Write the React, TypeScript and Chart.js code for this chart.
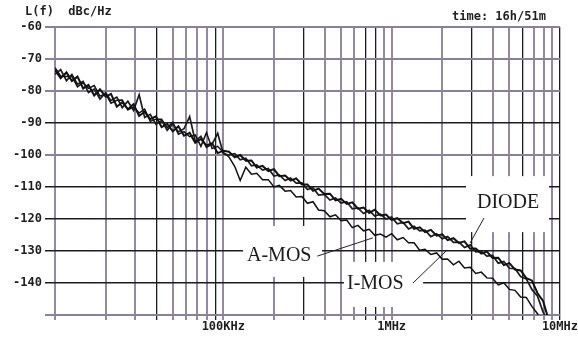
import React, { useEffect, useRef } from "react";
import { Chart, registerables } from "chart.js";

Chart.register(...registerables);

// Offset frequency in kHz (log axis, 10 kHz .. 10 MHz)
const FREQ_KHZ = [
  10, 10.8, 11.7, 12.6, 13.6, 14.7, 15.8, 17.1, 18.5, 20, 21.5, 23.3, 25.1, 27.1, 29.3, 31.6, 34.1, 36.8, 39.8, 43,
  46.4, 50.1, 54.1, 58.4, 63.1, 68.1, 73.6, 79.4, 85.8, 92.6, 100,
  108, 117, 126, 136, 147, 158, 171, 185, 200, 215, 233, 251, 271, 293, 316, 341, 368, 398, 430, 464,
  501, 541, 584, 631, 681, 736, 794, 858, 926, 1000,
  1080, 1170, 1260, 1360, 1470, 1580, 1710, 1850, 2000, 2150, 2330, 2510, 2710, 2930, 3160, 3410, 3680, 3980,
  4300, 4640, 5010, 5410, 5840, 6310, 6810, 7360, 7940, 8580, 9260,
];

// Phase noise L(f) in dBc/Hz
const DIODE = [
  -73.4, -76.0, -74.2, -76.9, -75.5, -79.2, -78.1, -81.4, -79.5, -81.8,
  -80.9, -84.9, -83.5, -85.7, -84.1, -87.8, -86.5, -88.8, -87.9, -91.3,
  -90.3, -92.6, -91.0, -94.0, -93.1, -96.2, -95.0, -97.0, -96.3, -99.4,
  -98.7,
  -99.0, -100.7, -100.0, -101.8, -101.7, -103.9, -103.4, -105.0, -104.4,
  -106.6, -106.4, -108.0, -107.3, -109.2, -109.2, -111.2, -110.5, -112.2, -112.1,
  -114.2, -113.7, -115.3, -114.8, -116.8, -116.4, -118.1, -117.1, -118.9, -118.6,
  -120.3, -119.7, -121.3, -120.8, -123.1, -122.6, -124.1, -123.4, -125.2, -124.8,
  -126.6, -126.0, -127.5, -127.0, -129.3, -129.2, -130.8, -130.2, -132.2, -132.1,
  -134.4, -133.8, -135.8, -136.1, -138.5, -139.2, -143.2, -145.6, -151.6, -154.7,
];

const I_MOS = [
  -74.8, -73.3, -76.8, -74.8, -77.9, -77.0, -80.5, -79.4, -82.5, -80.5,
  -83.0, -81.9, -85.2, -83.2, -86.1, -81.2, -88.3, -87.3, -90.4, -89.2,
  -92.3, -90.3, -92.8, -91.8, -88.0, -95.7, -94.2, -97.6, -96.6, -93.2,
  -99.6,
  -100.0, -99.6, -101.5, -101.0, -103.4, -103.1, -104.7, -104.2, -106.6,
  -106.2, -108.0, -107.2, -108.8, -108.7, -110.8, -110.2, -112.5, -112.3, -114.1,
  -113.4, -115.0, -114.6, -116.8, -116.5, -118.3, -117.3, -119.1, -118.5, -120.0,
  -119.4, -121.5, -121.1, -123.1, -122.3, -123.7, -123.5, -125.5, -124.6, -126.2,
  -125.5, -127.3, -127.2, -128.9, -128.1, -130.3, -130.1, -131.6, -131.4, -133.8,
  -133.3, -135.4, -135.5, -138.0, -138.7, -142.0, -144.1, -149.1, -152.5, -157.3,
];

const A_MOS = [
  -72.7, -75.3, -75.5, -75.4, -78.7, -77.4, -79.2, -78.3, -81.6, -80.9,
  -83.8, -82.9, -82.8, -85.9, -85.0, -86.9, -85.7, -89.5, -88.8, -88.8,
  -91.5, -89.8, -93.5, -92.7, -94.3, -93.7, -97.3, -93.0, -98.0, -97.3,
  -99.2,
  -100.6, -103.6, -108.0, -103.8, -106.0, -105.7, -107.7, -107.7, -110.0,
  -109.5, -111.3, -111.1, -113.1, -113.0, -115.1, -114.6, -117.2, -117.4, -119.3,
  -118.7, -120.5, -120.3, -122.7, -122.0, -123.7, -123.2, -125.1, -124.7, -125.7,
  -124.6, -126.5, -125.8, -127.4, -127.4, -129.8, -129.5, -131.1, -130.6, -132.6,
  -132.5, -134.3, -133.2, -135.3, -135.1, -137.0, -136.6, -138.4, -138.5, -140.6,
  -139.9, -142.0, -142.3, -144.4, -144.5, -147.3, -149.6, -153.5, -155.7, -159.2,
];

// Axis ticks
const X_GRID_KHZ = [
  10, 20, 30, 40, 50, 60, 70, 80, 90,
  100, 200, 300, 400, 500, 600, 700, 800, 900,
  1000, 2000, 3000, 4000, 5000, 6000, 7000, 8000, 9000, 10000,
];
const X_LABELS: Record<number, string> = { 100: "100KHz", 1000: "1MHz", 10000: "10MHz" };
const Y_MIN = -150;
const Y_MAX = -60;
const Y_STEP = 10;

const HEADER_LEFT = "L(f)  dBc/Hz";
const HEADER_RIGHT = "time: 16h/51m";

// Curve labels (text, anchor in data units, leader from/to in data units, white box in data units)
const CURVE_LABELS = [
  { text: "DIODE", at: [3216, -115.0], from: [3540, -119.7], to: [2924, -127.5], box: [2768, 8610, -106.6, -124.1] },
  { text: "A-MOS", at: [138.3, -131.6], from: [362, -131.6], to: [774, -125.9], box: [131, 386, -122.2, -138.1] },
  { text: "I-MOS", at: [543, -140.3], from: [1340, -140.0], to: [2134, -129.7], box: [521, 1538, -133.4, -147.5] },
];

const DARK_X = new Set([40, 90, 300, 700, 800, 3000, 6000, 10000]);
const DARK_Y = new Set([-90, -110, -120, -130, -140]);

const MONO = '"DejaVu Sans Mono", monospace';

const annotatePlugin = {
  id: "annotate",
  beforeDatasetsDraw(chart: any) {
    const { ctx } = chart;
    const xs = chart.scales.x;
    const ys = chart.scales.y;
    ctx.save();
    for (const l of CURVE_LABELS) {
      const x0 = xs.getPixelForValue(l.box[0]);
      const x1 = xs.getPixelForValue(l.box[1]);
      const y0 = ys.getPixelForValue(l.box[2]);
      const y1 = ys.getPixelForValue(l.box[3]);
      ctx.fillStyle = "#ffffff";
      ctx.fillRect(x0, y0, x1 - x0, y1 - y0);
    }
    ctx.fillStyle = "#1a1a1a";
    ctx.font = '20px "Liberation Serif", "DejaVu Serif", serif';
    ctx.textAlign = "left";
    ctx.textBaseline = "middle";
    for (const l of CURVE_LABELS) {
      ctx.fillText(l.text, xs.getPixelForValue(l.at[0]), ys.getPixelForValue(l.at[1]));
    }
    ctx.strokeStyle = "#222";
    ctx.lineWidth = 1;
    for (const l of CURVE_LABELS) {
      ctx.beginPath();
      ctx.moveTo(xs.getPixelForValue(l.from[0]), ys.getPixelForValue(l.from[1]));
      ctx.lineTo(xs.getPixelForValue(l.to[0]), ys.getPixelForValue(l.to[1]));
      ctx.stroke();
    }
    ctx.font = `bold 12px ${MONO}`;
    ctx.fillStyle = "#1e1e1e";
    ctx.fillText(HEADER_LEFT, 25, 12);
    ctx.fillText(HEADER_RIGHT, 452, 17);
    ctx.restore();
  },
};

function toPoints(vals: number[]) {
  return FREQ_KHZ.map((f, i) => ({ x: f, y: vals[i] }));
}

export default function App() {
  const ref = useRef<HTMLCanvasElement | null>(null);
  useEffect(() => {
    if (!ref.current) return;
    const lineDs = (label: string, vals: number[], w: number, color: string) => ({
      label,
      data: toPoints(vals),
      borderColor: color,
      borderWidth: w,
      pointRadius: 0,
      tension: 0,
      fill: false,
    });
    const chart = new Chart(ref.current, {
      type: "line",
      data: {
        datasets: [
          lineDs("DIODE", DIODE, 2, "#111111"),
          lineDs("I-MOS", I_MOS, 1.7, "#1c1c1c"),
          lineDs("A-MOS", A_MOS, 1.5, "#111111"),
        ],
      },
      options: {
        animation: false,
        responsive: false,
        devicePixelRatio: 1,
        layout: { padding: { top: 27, right: 18, left: 0, bottom: 0 } },
        plugins: { legend: { display: false }, tooltip: { enabled: false } },
        scales: {
          x: {
            type: "logarithmic",
            min: 10,
            max: 10000,
            afterBuildTicks: (s: any) => {
              s.ticks = X_GRID_KHZ.map((v) => ({ value: v }));
            },
            afterFit: (s: any) => {
              s.height = 22;
            },
            border: { display: false },
            grid: {
              color: (c: any) => (DARK_X.has(c.tick?.value) ? "#1e1a22" : "#938aa0"),
              lineWidth: (c: any) => (DARK_X.has(c.tick?.value) ? 1.3 : 2),
              tickLength: 5,
            },
            ticks: {
              autoSkip: false,
              maxRotation: 0,
              padding: 0,
              color: "#1e1e1e",
              font: { family: MONO, weight: "bold", size: 12 },
              callback: (v: any) => X_LABELS[Number(v)] ?? "",
            },
          },
          y: {
            min: Y_MIN,
            max: Y_MAX,
            afterFit: (s: any) => {
              s.width = 55;
            },
            border: { display: false },
            grid: {
              color: (c: any) => (DARK_Y.has(c.tick?.value) ? "#1e1a22" : "#8a8196"),
              lineWidth: (c: any) => (DARK_Y.has(c.tick?.value) ? 1.5 : 2),
              tickLength: 10,
            },
            ticks: {
              stepSize: Y_STEP,
              padding: 3,
              color: "#1e1e1e",
              font: { family: MONO, weight: "bold", size: 12 },
              callback: (v: any) => (Number(v) === Y_MIN ? "" : String(v)),
            },
          },
        },
      },
      plugins: [annotatePlugin],
    } as any);
    return () => chart.destroy();
  }, []);
  return (
    <div style={{ position: "fixed", left: 0, top: 0, width: 578, height: 337, background: "#fff" }}>
      <canvas ref={ref} width={578} height={337} />
    </div>
  );
}
